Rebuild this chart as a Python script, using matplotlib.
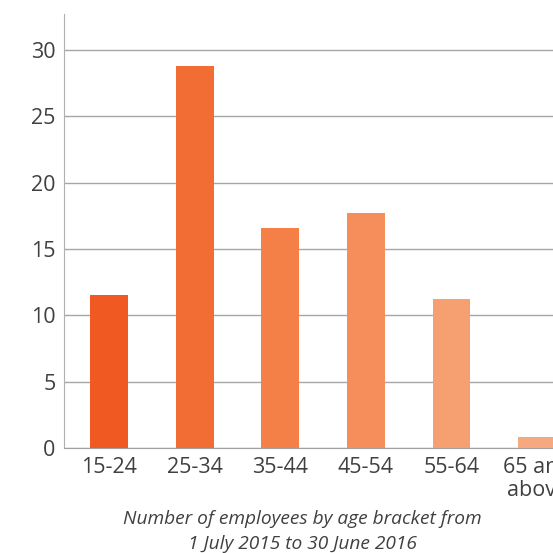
import matplotlib
matplotlib.use("Agg")
from matplotlib import pyplot as plt

plt.rcParams['font.family'] = ['Open Sans', 'DejaVu Sans']

# Employees per age bracket
age_brackets = ["15-24", "25-34", "35-44", "45-54", "55-64", "65 and\nabove"]
employees = [11.5, 28.8, 16.6, 17.7, 11.2, 0.8]
bar_colors = ["#F05A22", "#F26D33", "#F47F47", "#F68E5B", "#F69F70", "#F6A97F"]
y_ticks = [0, 5, 10, 15, 20, 25, 30]

fig = plt.figure(figsize=(5.53, 5.53), dpi=100)
ax = fig.add_axes([64 / 553, 1 - 448 / 553, (580 - 64) / 553, (448 - 14) / 553])

x = range(len(age_brackets))
ax.bar(x, employees, width=0.44, color=bar_colors, zorder=3)

ax.set_xlim(-0.526, 5.5)
ax.set_ylim(0, 32.7)
ax.set_yticks(y_ticks)
ax.set_xticks(list(x))
ax.set_xticklabels(age_brackets, linespacing=1.1)

ax.grid(axis="y", color="#A6A6A6", linewidth=1, zorder=0)
for side in ["top", "right"]:
    ax.spines[side].set_visible(False)
ax.spines["left"].set_color("#B0B0B0")
ax.spines["bottom"].set_color("#A0A0A0")
ax.tick_params(length=0, labelsize=15.5, labelcolor="#404040")
ax.tick_params(axis="y", pad=6)
ax.tick_params(axis="x", pad=6.5)

fig.text(302 / 553, 1 - 519 / 553, "Number of employees by age bracket from",
         ha="center", va="center", style="italic", fontsize=13.8, color="#404040")
fig.text(302 / 553, 1 - 544 / 553, "1 July 2015 to 30 June 2016",
         ha="center", va="center", style="italic", fontsize=13.8, color="#404040")

fig.savefig("out.png", dpi=100)
